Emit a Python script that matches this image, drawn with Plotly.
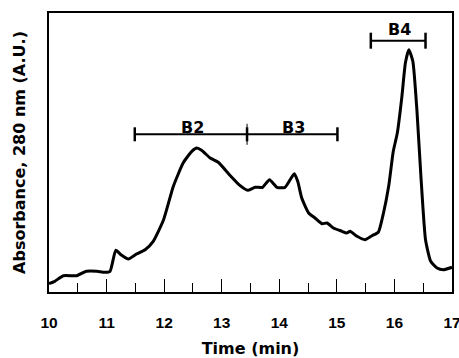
import plotly.graph_objects as go

# Chromatogram trace (time in min, absorbance in arbitrary units)
time_min = [10.0, 10.1, 10.25, 10.48, 10.65, 10.83, 10.97, 11.06, 11.16, 11.25, 11.38, 11.52,
            11.67, 11.81, 11.99, 12.16, 12.33, 12.48, 12.57, 12.65, 12.80, 12.94, 13.15, 13.32,
            13.45, 13.58, 13.71, 13.83, 13.96, 14.10, 14.26, 14.32, 14.39, 14.51, 14.62, 14.74,
            14.83, 14.94, 15.09, 15.17, 15.23, 15.35, 15.49, 15.61, 15.72, 15.81, 15.90, 15.98,
            16.05, 16.13, 16.19, 16.25, 16.32, 16.39, 16.46, 16.54, 16.63, 16.74, 16.85, 17.0]
absorbance = [8.3, 10.7, 16.3, 16.3, 20.7, 20.7, 19.7, 20.7, 41.7, 37.3, 33.0, 38.0,
              42.3, 50.7, 72.3, 105.7, 129.0, 140.7, 144.0, 141.7, 134.0, 129.7, 116.3, 106.3,
              101.7, 104.7, 104.7, 112.3, 104.7, 104.7, 118.3, 110.7, 94.0, 79.0, 74.0, 68.3,
              69.0, 64.0, 60.7, 59.0, 60.7, 55.7, 52.3, 56.3, 59.7, 79.0, 105.7, 140.7,
              159.0, 195.7, 229.0, 242.3, 230.7, 182.3, 115.7, 52.3, 30.7, 24.0, 22.3, 24.7]

# Fraction brackets
fraction_labels = ["B2", "B3", "B4"]
fraction_start = [11.49, 13.44, 15.59]
fraction_end = [13.44, 15.01, 16.54]
fraction_level = [157.7, 157.7, 251.3]
label_x = [12.50, 14.24, 16.09]
label_y = [164.5, 164.5, 263.0]
cap_half = [7.0, 7.0, 8.0]
divider_x = 13.44
divider_half = 10.5

x_ticks = [10, 11, 12, 13, 14, 15, 16, 17]

fig = go.Figure()

fig.add_trace(go.Scatter(x=time_min, y=absorbance, mode="lines",
                         line=dict(color="black", width=3, shape="spline", smoothing=0.5),
                         hoverinfo="skip", showlegend=False))

for i in range(len(fraction_labels)):
    s, e, lv, h = fraction_start[i], fraction_end[i], fraction_level[i], cap_half[i]
    fig.add_trace(go.Scatter(x=[s, e], y=[lv, lv], mode="lines",
                             line=dict(color="black", width=2), showlegend=False, hoverinfo="skip"))
    caps_x = [s, s, None, e, e] if i != 1 else [e, e]
    caps_y = [lv - h, lv + h, None, lv - h, lv + h] if i != 1 else [lv - h, lv + h]
    fig.add_trace(go.Scatter(x=caps_x, y=caps_y, mode="lines",
                             line=dict(color="black", width=2.5),
                             showlegend=False, hoverinfo="skip"))
    fig.add_annotation(x=label_x[i], y=label_y[i], text=fraction_labels[i], showarrow=False,
                       font=dict(family="DejaVu Sans", size=16, color="black", weight="bold"),
                       xanchor="center", yanchor="middle")

fig.add_trace(go.Scatter(x=[divider_x, divider_x],
                         y=[fraction_level[0] - divider_half, fraction_level[0] + divider_half],
                         mode="lines", line=dict(color="black", width=1),
                         showlegend=False, hoverinfo="skip"))

fig.update_layout(
    width=459, height=358,
    margin=dict(l=49, r=7, t=13, b=66),
    paper_bgcolor="white", plot_bgcolor="white",
    font=dict(family="Liberation Sans", color="black"),
    xaxis=dict(range=[10, 17], tickvals=x_ticks, ticks="inside", ticklen=13, tickwidth=1,
               tickcolor="black", showgrid=False, zeroline=False, automargin=False,
               showline=True, linecolor="black", linewidth=1.5, mirror=True,
               tickfont=dict(size=15.5, family="Liberation Sans", weight="bold"),
               ticklabelstandoff=16, ticklabeloverflow="allow",
               minor=dict(dtick=0.5, ticks="inside", ticklen=9, tickwidth=1, tickcolor="black",
                          showgrid=False),
               title=dict(text="Time (min)", font=dict(size=16, family="DejaVu Sans", weight="bold"),
                          standoff=15)),
    yaxis=dict(range=[0, 279], showticklabels=False, ticks="", showgrid=False, zeroline=False,
               automargin=False,
               showline=True, linecolor="black", linewidth=1.5, mirror=True,
               title=dict(text="Absorbance, 280 nm (A.U.)",
                          font=dict(size=16, family="DejaVu Sans", weight="bold"),
                          standoff=18)),
)

fig.write_html("out.html")
